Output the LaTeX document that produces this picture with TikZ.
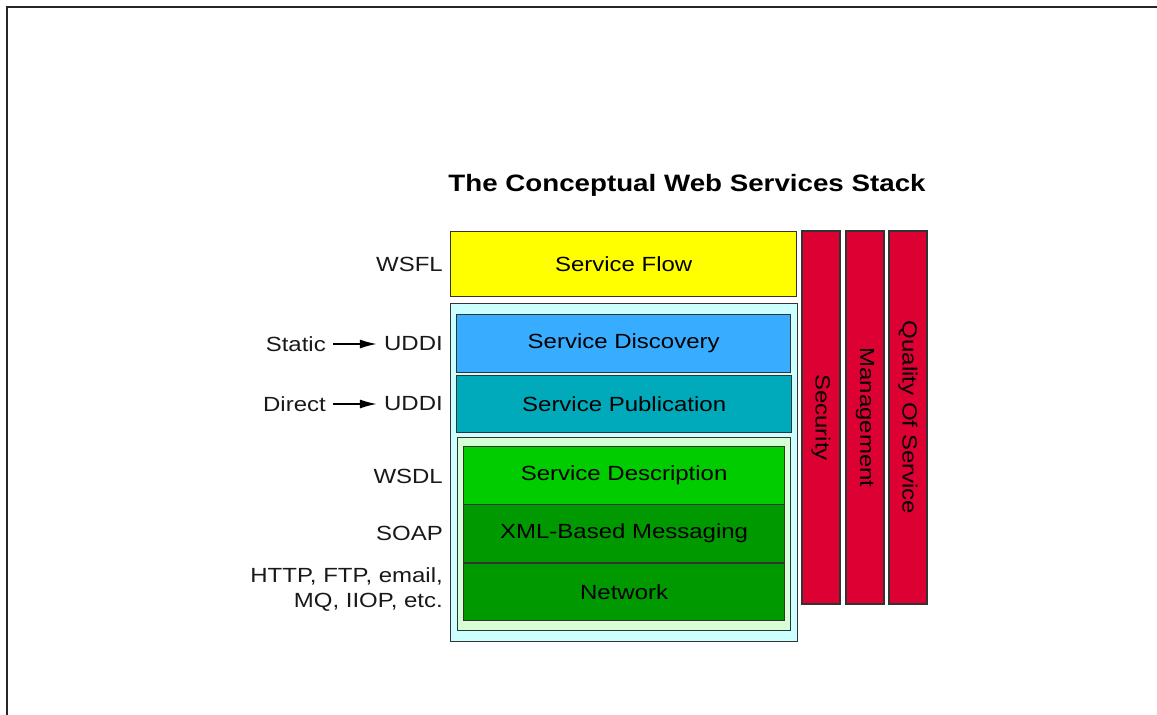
\documentclass[tikz,border=0pt]{standalone}
\usepackage{fontspec}
\setmainfont[FakeStretch=1.17]{Liberation Sans}
\usetikzlibrary{arrows.meta}
\definecolor{flowyellow}{HTML}{FFFF00}
\definecolor{discblue}{HTML}{38ADFF}
\definecolor{pubteal}{HTML}{00AABB}
\definecolor{outercyan}{HTML}{CCFFFF}
\definecolor{innergreen}{HTML}{D6FFD6}
\definecolor{descgreen}{HTML}{00CC00}
\definecolor{darkgreen}{HTML}{009900}
\definecolor{barred}{HTML}{DD0033}
\definecolor{edge}{HTML}{333333}
\tikzset{
  layer/.style={draw=edge, line width=1.3pt, rectangle, inner sep=0pt,
    font=\fontsize{20.5}{25}\selectfont, text=black, anchor=north west},
  group/.style={draw=edge, line width=1.3pt, rectangle, inner sep=0pt, anchor=north west},
  vbar/.style={draw=edge, line width=1.3pt, rectangle, inner sep=0pt, fill=barred,
    rotate=-90, minimum width=373pt, minimum height=38pt,
    font=\fontsize{20.5}{25}\selectfont, text=black},
  tag/.style={font=\fontsize{20.5}{25}\selectfont, text=black!90, inner sep=0pt, anchor=east},
  feed/.style={line width=1.8pt, -{Latex[length=17pt,width=9pt]}, shorten <=7pt, shorten >=7pt}
}
\begin{document}
\begin{tikzpicture}[x=1pt, y=-1pt]
\useasboundingbox (0,0) rectangle (1157,715);
% page frame
\draw[line width=2.5pt, black!85] (7,715) -- (7,7) -- (1157,7);

% title
\node[font=\bfseries\fontsize{23.7}{28}\selectfont, inner sep=0pt] (title) at (687,185) {The Conceptual Web Services Stack};

% stack
\node[layer, fill=flowyellow, minimum width=346pt, minimum height=65pt] (flow) at (450,231) {Service Flow};
\node[group, fill=outercyan, minimum width=347pt, minimum height=338pt] (outer) at (450,303) {};
\node[layer, fill=discblue, minimum width=334pt, minimum height=58pt] (disc) at (456,314) {Service Discovery};
\node[layer, fill=pubteal, minimum width=335pt, minimum height=57pt] (pub) at (456,375) {Service Publication};
\node[group, fill=innergreen, minimum width=333pt, minimum height=193pt] (inner) at (457,437) {};
\node[layer, fill=descgreen, minimum width=321pt, minimum height=58pt] (desc) at (463,446) {Service Description};
\node[layer, fill=darkgreen, minimum width=321pt, minimum height=58pt] (xml) at (463,504) {XML-Based Messaging};
\node[layer, fill=darkgreen, minimum width=321pt, minimum height=57pt] (net) at (463,563) {Network};

% vertical bars
\node[vbar] (sec) at (821,417.5) {Security};
\node[vbar] (mgmt) at (865,417.5) {Management};
\node[vbar] (qos) at (908,417.5) {Quality Of Service};

% technology labels
\node[tag] (wsfl) at (443,264) {WSFL};
\node[tag] (uddi1) at (443,344) {UDDI};
\node[tag] (static) at (326,344) {Static};
\node[tag] (uddi2) at (443,404) {UDDI};
\node[tag] (direct) at (326,404) {Direct};
\node[tag] (wsdl) at (443,476) {WSDL};
\node[tag] (soap) at (443,533) {SOAP};
\node[tag, align=right] (proto) at (443,590) {HTTP, FTP, email,\\MQ, IIOP, etc.};

\draw[feed] (static.east) -- (uddi1.west);
\draw[feed] (direct.east) -- (uddi2.west);
\end{tikzpicture}
\end{document}
